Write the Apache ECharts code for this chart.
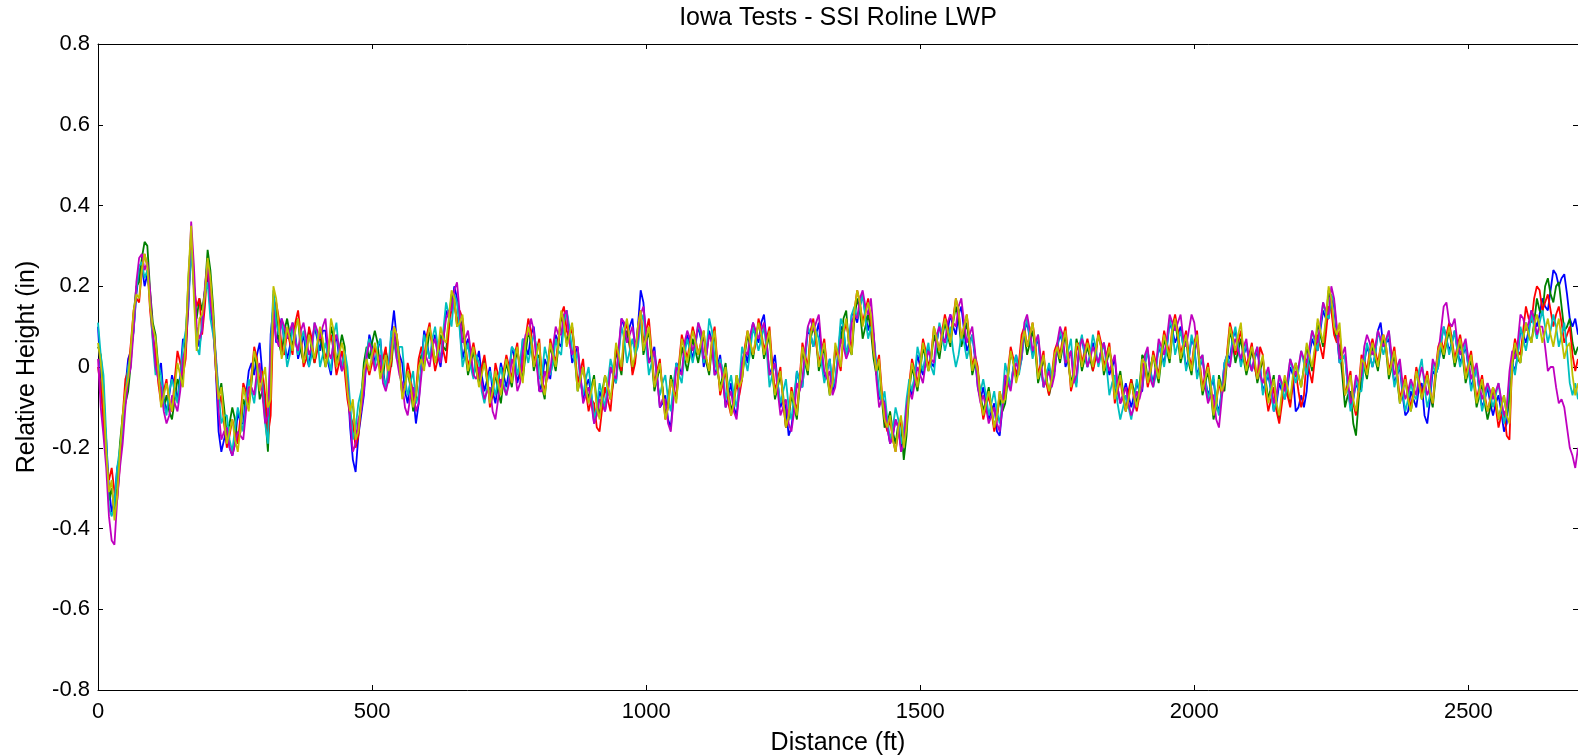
<!DOCTYPE html>
<html>
<head>
<meta charset="utf-8">
<script src="https://cdn.jsdelivr.net/npm/echarts@6/dist/echarts.min.js"></script>
<style>
html,body{margin:0;padding:0;background:#fff;}
#chart{width:1578px;height:755px;}
</style>
</head>
<body>
<div id="chart"></div>
<script>
// Profiles sampled every 10 ft, plus an intermediate reading at each 5 ft offset
const STEP_FT = 10;
const xTicks = [0, 500, 1000, 1500, 2000, 2500];
const yTicks = [-0.8, -0.6, -0.4, -0.2, 0, 0.2, 0.4, 0.6, 0.8];

const run1Blue = [0.10,-0.10,-0.30,-0.33,-0.22,-0.05,0.04,0.18,0.25,0.23,
0.09,-0.02,-0.08,-0.07,-0.05,-0.02,0.04,0.31,0.08,0.10,
0.23,0.10,-0.16,-0.18,-0.20,-0.19,-0.14,-0.07,0.01,0.03,
-0.02,-0.15,0.15,0.09,0.06,0.05,0.08,0.05,0.03,0.06,
0.07,0.09,0.01,0.05,0.02,0.02,-0.15,-0.26,-0.12,0.02,
0.05,0.04,-0.01,-0.02,0.14,0.03,-0.06,-0.03,-0.14,0.01,
0.06,0.05,0.03,0.06,0.12,0.20,0.10,0.05,0.02,0.01,
-0.02,-0.03,-0.06,-0.04,-0.02,-0.01,0.02,-0.01,0.05,0.08,
0.03,-0.04,0.00,0.03,0.06,0.12,0.08,0.03,-0.02,-0.05,
-0.07,-0.11,-0.08,-0.06,-0.02,0.04,0.10,0.10,0.04,0.19,
0.07,0.03,-0.02,-0.09,-0.13,-0.07,0.00,0.04,0.05,0.06,
0.07,0.03,0.06,0.00,-0.03,-0.07,-0.10,-0.06,0.04,0.07,
0.08,0.11,0.06,0.00,-0.04,-0.08,-0.17,-0.09,-0.04,0.02,
0.08,0.08,0.03,-0.01,-0.06,0.03,0.09,0.06,0.13,0.15,
0.13,0.12,-0.01,-0.07,-0.15,-0.17,-0.15,-0.18,-0.05,-0.02,
0.00,0.03,0.01,0.06,0.08,0.09,0.10,0.13,0.09,0.06,
0.02,-0.08,-0.09,-0.11,-0.16,-0.10,-0.02,0.00,-0.01,0.09,
0.07,0.05,0.00,-0.03,-0.03,0.05,0.06,0.02,-0.02,0.05,
0.03,0.03,0.03,0.04,0.02,0.00,-0.05,-0.07,-0.07,-0.07,
-0.06,0.01,-0.01,0.00,0.03,0.05,0.09,0.08,0.05,0.02,
0.05,0.00,-0.03,-0.05,-0.09,-0.06,0.03,0.07,0.05,0.03,
0.02,0.02,0.00,-0.04,-0.06,-0.09,-0.06,-0.05,-0.02,-0.10,
-0.10,0.03,0.05,0.09,0.12,0.17,0.08,0.02,-0.05,-0.08,
-0.06,0.01,0.03,0.03,0.11,0.06,0.01,-0.02,-0.07,-0.11,
-0.08,-0.05,-0.12,-0.08,-0.02,0.06,0.07,0.06,0.04,0.03,
0.00,-0.03,-0.06,-0.08,-0.09,-0.09,-0.11,-0.14,0.01,0.03,
0.08,0.09,0.12,0.13,0.15,0.19,0.23,0.22,0.18,0.10,0.08];
const run1BlueMid = [-0.02,-0.18,-0.36,-0.25,-0.16,0.02,0.09,0.24,0.20,0.18,
0.01,0.01,-0.11,-0.02,-0.08,0.07,0.15,0.21,0.05,0.19,
0.14,-0.01,-0.21,-0.15,-0.22,-0.11,-0.14,-0.01,-0.02,0.06,
-0.11,0.08,0.06,0.12,0.02,0.11,0.02,0.08,0.00,0.10,
0.04,0.09,-0.02,0.08,-0.01,-0.03,-0.23,-0.17,-0.07,0.08,
0.01,0.07,-0.05,0.08,0.07,0.01,-0.09,-0.07,-0.09,0.09,
0.02,0.08,0.00,0.14,0.14,0.17,0.02,0.07,-0.02,0.04,
-0.06,0.00,-0.09,0.01,-0.05,0.05,-0.04,0.07,0.03,0.10,
-0.06,0.02,-0.03,0.08,0.05,0.14,0.01,0.05,-0.08,-0.03,
-0.14,-0.06,-0.11,0.00,-0.04,0.12,0.07,0.12,0.10,0.16,
0.01,0.05,-0.10,-0.07,-0.15,0.01,-0.02,0.08,0.02,0.10,
0.00,0.09,-0.02,0.03,-0.10,-0.04,-0.12,0.01,0.01,0.11,
0.06,0.13,-0.02,0.03,-0.10,-0.10,-0.15,-0.01,-0.05,0.09,
0.05,0.11,-0.03,0.02,-0.04,0.10,0.03,0.13,0.11,0.18,
0.09,0.08,-0.08,-0.09,-0.19,-0.13,-0.20,-0.10,-0.07,0.03,
-0.02,0.05,0.00,0.10,0.06,0.13,0.08,0.15,0.04,0.08,
-0.05,-0.05,-0.13,-0.09,-0.17,-0.04,-0.05,0.03,0.02,0.11,
0.03,0.07,-0.05,0.00,-0.01,0.08,0.00,0.04,-0.04,0.07,
0.00,0.06,0.01,0.06,-0.02,0.02,-0.09,-0.04,-0.10,-0.04,
-0.06,0.04,-0.04,0.05,0.01,0.11,0.06,0.10,0.00,0.07,
-0.02,0.02,-0.07,-0.03,-0.11,0.01,0.02,0.09,0.01,0.05,
-0.01,0.04,-0.06,-0.02,-0.11,-0.04,-0.08,0.00,-0.11,-0.07,
-0.06,0.07,0.04,0.14,0.12,0.15,0.01,0.03,-0.10,-0.04,
-0.05,0.05,0.00,0.09,0.05,0.07,-0.04,0.00,-0.12,-0.06,
-0.10,-0.04,-0.14,-0.01,0.00,0.10,0.04,0.09,0.01,0.05,
-0.05,0.00,-0.10,-0.05,-0.12,-0.07,-0.16,-0.05,-0.01,0.09,
0.06,0.14,0.10,0.17,0.14,0.24,0.20,0.23,0.12,0.12];

const run2Green = [0.05,-0.05,-0.33,-0.36,-0.19,-0.09,0.01,0.20,0.27,0.30,
0.11,0.00,-0.10,-0.11,-0.08,-0.05,0.07,0.33,0.12,0.14,
0.29,0.15,-0.07,-0.10,-0.14,-0.13,-0.16,-0.10,-0.04,0.00,
-0.06,-0.21,0.18,0.06,0.09,0.08,0.10,0.04,0.06,0.04,
0.05,0.04,0.03,0.07,0.04,0.05,-0.10,-0.17,-0.08,0.05,
0.06,0.06,-0.03,0.01,0.08,0.00,-0.04,-0.05,-0.08,0.03,
0.04,0.06,0.04,0.05,0.11,0.17,0.12,0.04,0.01,-0.01,
-0.01,-0.04,-0.05,-0.06,-0.03,-0.02,0.01,0.00,0.03,0.06,
0.02,-0.05,0.01,0.02,0.05,0.10,0.09,0.02,-0.03,-0.04,
-0.05,-0.09,-0.06,-0.05,-0.04,0.01,0.06,0.05,0.02,0.12,
0.06,0.02,-0.03,-0.05,-0.09,-0.05,-0.01,0.02,0.03,0.04,
0.05,0.01,0.05,-0.01,-0.02,-0.06,-0.08,-0.05,0.03,0.05,
0.07,0.08,0.05,-0.01,-0.05,-0.07,-0.13,-0.10,-0.05,0.01,
0.07,0.07,0.02,-0.02,-0.04,0.04,0.12,0.05,0.12,0.14,
0.10,0.09,-0.02,-0.08,-0.14,-0.16,-0.14,-0.23,-0.06,-0.03,
-0.01,0.02,0.02,0.05,0.07,0.08,0.11,0.12,0.08,0.05,
0.01,-0.07,-0.08,-0.10,-0.12,-0.11,-0.03,0.01,0.00,0.08,
0.06,0.04,-0.01,-0.02,-0.04,0.04,0.05,0.01,-0.01,0.04,
0.02,0.02,0.04,0.05,0.01,0.01,-0.04,-0.06,-0.08,-0.06,
-0.05,0.02,0.00,-0.01,0.02,0.04,0.08,0.07,0.04,0.01,
0.04,-0.01,-0.04,-0.06,-0.10,-0.05,0.02,0.06,0.04,0.02,
0.01,0.01,-0.01,-0.03,-0.05,-0.10,-0.07,-0.06,-0.03,-0.02,
0.00,0.02,0.04,0.08,0.11,0.16,0.07,-0.02,-0.07,-0.14,
-0.08,0.00,0.02,0.02,0.04,0.04,0.00,-0.03,-0.06,-0.08,
-0.07,-0.04,-0.05,-0.07,-0.03,0.05,0.06,0.05,0.03,0.02,
-0.01,-0.04,-0.07,-0.09,-0.10,-0.08,-0.10,-0.12,0.00,0.02,
0.07,0.08,0.11,0.14,0.20,0.18,0.20,0.15,0.10,0.06,0.05];
const run2GreenMid = [0.03,-0.21,-0.30,-0.30,-0.12,-0.06,0.13,0.21,0.31,0.19,
0.08,-0.07,-0.07,-0.13,-0.03,-0.02,0.22,0.20,0.17,0.19,
0.24,0.02,-0.04,-0.17,-0.10,-0.19,-0.08,-0.10,0.03,-0.08,
-0.12,-0.05,0.14,0.03,0.12,0.05,0.12,0.01,0.09,0.01,
0.08,0.00,0.10,0.01,0.08,-0.05,-0.09,-0.15,0.01,0.02,
0.09,-0.01,0.04,0.00,0.06,-0.07,-0.01,-0.11,0.00,0.00,
0.09,0.01,0.08,0.04,0.18,0.10,0.10,-0.02,0.04,-0.04,
0.02,-0.08,-0.02,-0.09,0.01,-0.05,0.04,-0.03,0.09,-0.01,
0.03,-0.08,0.05,-0.01,0.13,0.06,0.10,-0.06,0.00,-0.08,
-0.02,-0.12,-0.02,-0.08,0.04,-0.02,0.09,-0.01,0.09,0.03,
0.09,-0.06,0.00,-0.12,-0.02,-0.08,0.05,-0.01,0.07,0.01,
0.08,-0.02,0.08,-0.05,0.01,-0.11,-0.02,-0.03,0.08,0.02,
0.11,0.02,0.08,-0.08,-0.02,-0.15,-0.07,-0.13,0.04,-0.02,
0.10,-0.01,0.05,-0.07,0.04,0.06,0.14,0.03,0.17,0.07,
0.13,0.02,0.01,-0.15,-0.11,-0.19,-0.14,-0.17,0.00,-0.06,
0.05,-0.01,0.08,0.02,0.11,0.05,0.15,0.05,0.11,-0.02,
-0.01,-0.11,-0.05,-0.15,-0.08,-0.09,0.04,-0.03,0.06,0.03,
0.09,-0.04,0.02,-0.07,0.02,0.01,0.08,-0.04,0.07,-0.01,
0.05,-0.01,0.08,-0.02,0.04,-0.07,-0.01,-0.11,-0.03,-0.09,
0.03,-0.03,0.03,-0.04,0.07,0.01,0.11,0.01,0.07,-0.02,
0.07,-0.07,-0.01,-0.13,-0.02,-0.06,0.09,0.01,0.07,-0.02,
0.04,-0.04,0.02,-0.08,-0.02,-0.13,-0.03,-0.09,0.01,-0.05,
0.05,-0.01,0.11,0.05,0.19,0.09,0.05,-0.10,-0.06,-0.17,
-0.02,-0.03,0.05,-0.01,0.07,-0.03,0.03,-0.09,-0.03,-0.11,
-0.01,-0.08,-0.02,-0.10,0.03,0.02,0.09,0.00,0.06,-0.04,
0.02,-0.10,-0.04,-0.13,-0.05,-0.13,-0.07,-0.08,0.05,0.01,
0.11,0.06,0.17,0.13,0.22,0.16,0.21,0.09,0.12,0.03];

const run3Red = [0.00,-0.14,-0.28,-0.31,-0.24,-0.03,0.06,0.17,0.24,0.25,
0.07,-0.04,-0.06,-0.09,-0.03,0.01,0.02,0.30,0.15,0.08,
0.25,0.12,-0.10,-0.14,-0.17,-0.16,-0.12,-0.06,-0.02,0.02,
-0.01,-0.17,0.13,0.12,0.03,0.06,0.11,0.08,0.02,0.07,
0.04,0.06,0.05,0.04,0.01,-0.01,-0.12,-0.20,-0.10,0.01,
0.01,0.02,0.02,-0.04,0.10,0.02,-0.05,-0.02,-0.06,0.05,
0.08,0.04,0.02,0.04,0.09,0.16,0.14,0.06,0.03,0.02,
0.00,-0.02,-0.07,-0.02,-0.01,0.00,0.03,-0.03,0.07,0.09,
0.04,-0.03,-0.02,0.04,0.07,0.15,0.07,0.04,-0.01,-0.06,
-0.08,-0.15,-0.10,-0.08,-0.03,0.02,0.08,0.06,0.01,0.14,
0.09,0.04,-0.01,-0.06,-0.10,-0.06,0.01,0.05,0.06,0.07,
0.06,0.02,0.07,0.01,-0.04,-0.09,-0.09,-0.07,0.05,0.06,
0.06,0.09,0.07,0.01,-0.03,-0.09,-0.12,-0.08,-0.03,0.03,
0.09,0.06,0.04,0.00,-0.03,0.02,0.08,0.07,0.14,0.16,
0.14,0.11,0.00,-0.06,-0.16,-0.18,-0.16,-0.17,-0.04,-0.01,
0.01,0.04,0.03,0.07,0.09,0.10,0.12,0.14,0.10,0.07,
0.03,-0.08,-0.10,-0.11,-0.13,-0.09,-0.01,0.02,0.01,0.10,
0.08,0.06,0.01,-0.04,-0.02,0.06,0.07,0.03,-0.03,0.06,
0.04,0.04,0.02,0.06,0.03,-0.01,-0.06,-0.08,-0.06,-0.08,
-0.07,0.00,-0.02,0.01,0.04,0.06,0.10,0.09,0.06,0.03,
0.06,0.01,-0.02,-0.04,-0.08,-0.07,0.04,0.08,0.06,0.04,
0.03,0.00,0.05,-0.06,-0.08,-0.11,-0.09,-0.07,-0.04,-0.06,
-0.07,-0.01,0.02,0.05,0.08,0.14,0.06,0.01,-0.04,-0.09,
-0.05,0.02,0.04,0.04,0.05,0.05,0.02,-0.01,-0.05,-0.07,
-0.06,-0.03,-0.04,-0.06,-0.01,0.07,0.08,0.07,0.05,0.04,
0.01,-0.02,-0.05,-0.07,-0.08,-0.10,-0.12,-0.17,0.02,0.04,
0.09,0.12,0.17,0.19,0.16,0.14,0.13,0.11,0.08,0.03,0.02];
const run3RedMid = [-0.05,-0.23,-0.25,-0.33,-0.12,-0.01,0.14,0.16,0.28,0.14,
0.04,-0.09,-0.03,-0.11,0.04,-0.02,0.18,0.20,0.17,0.15,
0.21,-0.01,-0.07,-0.20,-0.13,-0.19,-0.04,-0.09,0.05,-0.04,
-0.07,-0.12,0.16,0.05,0.09,0.03,0.14,0.00,0.10,0.01,
0.09,0.02,0.08,-0.02,0.04,-0.08,-0.14,-0.17,-0.02,-0.02,
0.05,-0.01,0.05,0.01,0.08,-0.07,0.01,-0.09,0.02,0.02,
0.11,-0.01,0.07,0.01,0.15,0.11,0.12,0.00,0.06,-0.03,
0.03,-0.10,0.01,-0.05,0.03,-0.03,0.06,0.00,0.12,0.01,
0.07,-0.06,0.07,0.01,0.13,0.09,0.10,-0.04,0.02,-0.11,
-0.09,-0.16,-0.05,-0.11,0.05,-0.01,0.11,-0.02,0.10,0.06,
0.12,-0.04,0.02,-0.13,-0.03,-0.07,0.08,0.02,0.10,0.03,
0.09,-0.01,0.10,-0.07,-0.01,-0.12,-0.04,-0.03,0.09,0.03,
0.12,0.04,0.10,-0.06,0.00,-0.15,-0.05,-0.11,0.06,0.00,
0.12,0.01,0.07,-0.06,0.05,-0.01,0.11,0.05,0.19,0.11,
0.17,0.04,0.03,-0.13,-0.13,-0.21,-0.13,-0.13,0.02,-0.04,
0.07,0.00,0.10,0.04,0.13,0.07,0.17,0.07,0.13,0.00,
0.00,-0.13,-0.07,-0.16,-0.06,-0.07,0.05,-0.02,0.08,0.05,
0.11,-0.02,0.04,-0.07,0.04,0.03,0.10,-0.06,0.04,0.01,
0.07,-0.01,0.09,0.00,0.06,-0.09,-0.03,-0.11,-0.03,-0.11,
0.01,-0.05,0.04,-0.02,0.09,0.03,0.13,0.03,0.09,0.00,
0.09,-0.05,0.01,-0.11,-0.04,-0.04,0.11,0.03,0.09,0.00,
0.06,-0.03,0.03,-0.11,-0.05,-0.14,-0.04,-0.10,-0.01,-0.10,
0.02,-0.04,0.08,0.02,0.15,0.08,0.09,-0.07,-0.01,-0.12,
0.03,-0.01,0.07,0.01,0.08,-0.01,0.05,-0.08,-0.02,-0.10,
0.00,-0.07,-0.01,-0.09,0.05,0.04,0.11,0.02,0.08,-0.02,
0.04,-0.08,-0.02,-0.11,-0.05,-0.15,-0.11,-0.18,0.07,0.03,
0.15,0.11,0.20,0.14,0.18,0.10,0.15,0.06,0.10,-0.01];

const run4Cyan = [0.11,-0.02,-0.35,-0.34,-0.20,-0.07,0.03,0.19,0.26,0.24,
0.06,0.01,-0.09,-0.06,-0.06,-0.03,0.09,0.29,0.05,0.12,
0.21,0.08,-0.06,-0.12,-0.18,-0.15,-0.13,-0.09,-0.06,-0.03,
-0.04,-0.19,0.19,0.08,0.07,0.03,0.07,0.06,0.05,0.03,
0.08,0.03,0.02,0.08,0.03,0.04,-0.09,-0.15,-0.06,0.04,
0.03,0.05,-0.02,0.00,0.06,0.05,-0.03,-0.04,-0.09,0.00,
0.05,0.07,0.05,0.09,0.13,0.18,0.09,0.03,0.00,0.03,
-0.06,-0.05,-0.04,-0.03,-0.04,-0.03,0.04,0.01,0.04,0.05,
0.05,-0.02,0.02,0.01,0.04,0.11,0.10,0.01,-0.04,-0.03,
-0.06,-0.10,-0.07,-0.04,-0.01,0.03,0.07,0.04,0.03,0.11,
0.05,0.01,-0.04,-0.04,-0.08,-0.04,-0.02,0.03,0.04,0.05,
0.08,0.04,0.09,-0.02,-0.01,-0.05,-0.07,-0.04,0.02,0.04,
0.07,0.07,0.04,-0.02,-0.04,-0.06,-0.10,-0.07,-0.04,0.02,
0.08,0.09,0.01,-0.01,-0.05,0.03,0.10,0.06,0.15,0.15,
0.12,0.10,0.01,-0.09,-0.13,-0.15,-0.13,-0.16,-0.03,-0.02,
0.02,0.03,0.00,0.06,0.08,0.07,0.04,0.03,0.06,0.05,
0.03,-0.06,-0.07,-0.09,-0.11,-0.08,-0.02,0.00,-0.02,0.09,
0.07,0.05,0.00,-0.02,-0.03,0.05,0.06,0.04,-0.02,0.05,
0.03,0.03,0.05,0.03,0.00,-0.04,-0.09,-0.10,-0.10,-0.09,
-0.06,0.01,-0.01,-0.02,0.03,0.05,0.09,0.06,0.05,0.02,
0.05,0.00,-0.03,-0.05,-0.09,-0.06,0.03,0.07,0.05,0.03,
0.02,0.02,0.00,-0.04,-0.06,-0.08,-0.05,-0.04,-0.01,-0.01,
0.01,0.04,0.06,0.10,0.13,0.18,0.09,0.02,-0.05,-0.08,
-0.06,0.01,0.03,0.03,0.06,0.06,0.01,-0.02,-0.06,-0.08,
-0.07,-0.01,-0.05,-0.07,-0.02,0.06,0.07,0.06,0.04,0.03,
0.00,-0.03,-0.06,-0.08,-0.07,-0.07,-0.09,-0.11,0.01,0.03,
0.07,0.08,0.10,0.11,0.10,0.09,0.10,0.08,0.04,-0.07,-0.08];
const run4CyanMid = [0.03,-0.17,-0.37,-0.25,-0.16,0.00,0.09,0.25,0.22,0.17,
-0.02,-0.02,-0.12,-0.03,-0.09,0.05,0.17,0.19,0.03,0.18,
0.12,0.03,-0.14,-0.12,-0.21,-0.10,-0.16,-0.03,-0.09,0.00,
-0.14,0.05,0.11,0.11,0.00,0.10,0.03,0.09,0.00,0.11,
0.00,0.06,-0.01,0.11,0.00,0.00,-0.18,-0.09,-0.03,0.07,
0.00,0.07,-0.05,0.09,0.02,0.05,-0.07,-0.01,-0.07,0.08,
0.02,0.10,0.02,0.16,0.10,0.16,0.00,0.06,-0.03,0.01,
-0.09,-0.01,-0.07,0.00,-0.07,0.05,-0.02,0.07,0.01,0.08,
-0.03,0.05,-0.02,0.07,0.03,0.14,0.04,0.04,-0.07,0.00,
-0.13,-0.04,-0.10,0.02,-0.04,0.10,0.01,0.07,0.05,0.13,
-0.02,0.04,-0.07,-0.02,-0.11,0.01,-0.04,0.07,0.01,0.11,
0.01,0.12,0.02,0.02,-0.08,-0.02,-0.10,0.05,-0.01,0.10,
0.04,0.10,-0.05,0.01,-0.09,-0.03,-0.13,-0.01,-0.05,0.10,
0.05,0.07,-0.04,0.02,-0.03,0.12,0.03,0.13,0.12,0.18,
0.07,0.08,-0.06,-0.06,-0.18,-0.10,-0.19,-0.08,-0.06,0.05,
-0.01,0.06,-0.02,0.11,0.04,0.10,0.00,0.08,0.02,0.08,
-0.04,-0.03,-0.12,-0.06,-0.14,0.01,-0.05,0.03,0.02,0.12,
0.02,0.08,-0.05,0.01,-0.01,0.09,0.01,0.07,-0.05,0.08,
0.00,0.08,0.00,0.06,-0.07,-0.02,-0.13,-0.07,-0.13,-0.03,
-0.05,0.04,-0.05,0.06,0.00,0.12,0.03,0.09,-0.01,0.08,
-0.03,0.03,-0.08,-0.02,-0.12,0.01,0.00,0.10,0.00,0.06,
-0.01,0.05,-0.07,-0.01,-0.11,-0.02,-0.08,0.02,-0.04,0.04,
-0.02,0.09,0.04,0.16,0.12,0.16,0.01,0.03,-0.11,-0.03,
-0.06,0.06,0.00,0.09,0.03,0.09,-0.05,0.01,-0.11,-0.04,
-0.08,0.02,-0.10,0.01,0.00,0.10,0.03,0.09,0.00,0.06,
-0.06,0.00,-0.11,-0.04,-0.10,-0.04,-0.14,-0.03,-0.02,0.10,
0.04,0.13,0.07,0.14,0.06,0.13,0.05,0.11,-0.04,-0.04];

const run5Magenta = [0.02,-0.17,-0.37,-0.44,-0.25,-0.10,0.00,0.21,0.28,0.26,
0.08,-0.03,-0.11,-0.12,-0.09,-0.06,0.05,0.36,0.10,0.09,
0.26,0.11,-0.11,-0.16,-0.20,-0.19,-0.17,-0.11,-0.05,-0.01,
-0.07,-0.12,0.14,0.05,0.10,0.09,0.06,0.09,0.07,0.05,
0.09,0.10,0.04,0.06,0.05,0.01,-0.13,-0.19,-0.11,0.03,
0.04,0.01,-0.04,-0.03,0.09,-0.02,-0.10,-0.07,-0.11,-0.02,
0.02,0.05,0.03,0.07,0.14,0.19,0.13,0.07,0.04,-0.03,
-0.04,-0.06,-0.11,-0.08,-0.05,-0.04,0.00,-0.04,0.08,0.12,
0.01,-0.06,-0.03,0.05,0.08,0.13,0.06,0.05,-0.02,-0.07,
-0.09,-0.12,-0.09,-0.07,-0.02,0.05,0.11,0.08,0.05,0.13,
0.08,0.02,-0.03,-0.08,-0.14,-0.08,-0.01,0.06,0.07,0.06,
0.09,0.03,0.06,-0.01,-0.03,-0.08,-0.11,-0.06,0.04,0.08,
0.09,0.09,0.06,-0.01,-0.06,-0.10,-0.14,-0.11,-0.06,0.04,
0.12,0.11,0.05,-0.03,-0.07,0.01,0.05,0.04,0.13,0.17,
0.15,0.17,-0.03,-0.08,-0.15,-0.17,-0.15,-0.19,-0.06,-0.04,
-0.02,0.01,0.02,0.08,0.07,0.11,0.11,0.15,0.11,0.08,
0.04,-0.09,-0.10,-0.12,-0.14,-0.10,-0.04,-0.01,-0.01,0.11,
0.09,0.06,0.02,-0.03,-0.05,0.06,0.08,0.02,-0.04,0.04,
0.05,0.02,0.03,0.04,0.02,0.01,-0.05,-0.07,-0.09,-0.10,
-0.08,0.03,-0.03,0.00,0.05,0.07,0.11,0.11,0.07,0.09,
0.11,0.02,-0.05,-0.07,-0.13,-0.08,0.01,0.05,0.04,0.05,
0.01,0.03,-0.02,-0.02,-0.04,-0.07,-0.04,-0.03,0.00,0.00,
0.02,0.05,0.07,0.11,0.14,0.20,0.10,0.03,-0.03,-0.07,
-0.04,0.05,0.06,0.05,0.07,0.07,0.03,0.00,-0.04,-0.06,
-0.05,-0.03,-0.03,-0.05,0.00,0.09,0.16,0.10,0.06,0.05,
0.02,-0.01,-0.04,-0.06,-0.06,-0.06,-0.08,-0.10,0.04,0.06,
0.12,0.11,0.12,0.10,0.05,0.00,-0.05,-0.08,-0.15,-0.22,-0.20];
const run5MagentaMid = [-0.10,-0.25,-0.43,-0.33,-0.19,-0.03,0.09,0.27,0.24,0.19,
0.00,-0.05,-0.14,-0.07,-0.11,0.02,0.19,0.25,0.07,0.20,
0.16,0.02,-0.18,-0.15,-0.22,-0.16,-0.18,-0.05,-0.07,0.01,
-0.14,0.03,0.07,0.12,0.07,0.11,0.04,0.11,0.03,0.11,
0.07,0.12,0.02,0.08,-0.01,-0.04,-0.21,-0.13,-0.06,0.06,
-0.01,0.03,-0.06,0.05,0.02,-0.04,-0.12,-0.05,-0.09,0.04,
0.00,0.07,0.01,0.12,0.14,0.21,0.06,0.09,-0.02,0.00,
-0.08,-0.05,-0.13,-0.03,-0.07,0.02,-0.06,0.04,0.08,0.09,
-0.06,-0.01,-0.01,0.10,0.08,0.14,0.03,0.05,-0.09,-0.05,
-0.14,-0.08,-0.11,0.00,-0.03,0.12,0.06,0.10,0.07,0.15,
0.01,0.04,-0.10,-0.08,-0.16,0.00,-0.02,0.09,0.04,0.11,
0.02,0.08,-0.02,0.01,-0.10,-0.06,-0.13,0.01,0.03,0.11,
0.07,0.11,-0.02,0.01,-0.12,-0.08,-0.16,-0.04,-0.03,0.10,
0.09,0.13,-0.01,-0.01,-0.05,0.07,0.02,0.11,0.12,0.19,
0.13,0.09,-0.10,-0.09,-0.19,-0.13,-0.21,-0.10,-0.08,0.00,
-0.04,0.04,0.01,0.10,0.06,0.13,0.10,0.17,0.06,0.10,
-0.05,-0.07,-0.14,-0.10,-0.16,-0.02,-0.06,0.01,0.03,0.13,
0.04,0.08,-0.05,-0.01,-0.02,0.10,0.01,0.04,-0.02,0.07,
0.00,0.05,0.01,0.06,-0.01,0.03,-0.09,-0.05,-0.12,-0.06,
-0.05,0.05,-0.05,0.07,0.03,0.13,0.09,0.13,0.05,0.13,
0.05,0.03,-0.09,-0.07,-0.15,-0.01,0.00,0.07,0.02,0.07,
-0.01,0.05,-0.04,0.00,-0.09,-0.02,-0.06,0.02,-0.02,0.04,
0.01,0.09,0.06,0.16,0.13,0.17,0.02,0.05,-0.09,-0.02,
-0.02,0.08,0.03,0.09,0.05,0.09,-0.02,0.02,-0.08,-0.03,
-0.07,0.00,-0.07,0.02,0.03,0.15,0.11,0.12,0.03,0.07,
-0.03,0.01,-0.08,-0.04,-0.08,-0.04,-0.12,-0.01,0.02,0.13,
0.09,0.14,0.08,0.10,-0.01,0.00,-0.09,-0.10,-0.20,-0.25];

const run6Yellow = [0.06,-0.08,-0.31,-0.38,-0.21,-0.06,0.05,0.18,0.24,0.25,
0.10,-0.01,-0.07,-0.08,-0.05,-0.02,0.06,0.35,0.04,0.13,
0.27,0.13,-0.08,-0.13,-0.16,-0.18,-0.15,-0.08,-0.03,0.01,
-0.03,-0.10,0.20,0.10,0.05,0.07,0.09,0.06,0.04,0.05,
0.06,0.07,0.03,0.09,0.03,0.03,-0.11,-0.18,-0.09,0.02,
0.03,0.03,0.00,-0.01,0.10,0.01,-0.05,-0.04,-0.07,0.02,
0.07,0.06,0.04,0.07,0.12,0.17,0.11,0.05,0.02,0.00,
-0.02,-0.03,-0.06,-0.04,-0.02,-0.01,0.02,-0.01,0.06,0.07,
0.03,-0.04,-0.01,0.03,0.06,0.11,0.08,0.03,-0.03,-0.05,
-0.06,-0.10,-0.07,-0.05,-0.02,0.03,0.09,0.07,0.03,0.14,
0.07,0.03,-0.02,-0.06,-0.10,-0.06,0.00,0.04,0.05,0.06,
0.06,0.02,0.06,0.00,-0.03,-0.07,-0.09,-0.05,0.04,0.06,
0.07,0.08,0.06,-0.01,-0.04,-0.08,-0.12,-0.09,-0.04,0.02,
0.08,0.08,0.03,-0.01,-0.04,0.03,0.09,0.06,0.14,0.16,
0.13,0.13,-0.01,-0.07,-0.15,-0.18,-0.15,-0.20,-0.05,-0.02,
0.00,0.03,0.02,0.07,0.08,0.09,0.11,0.14,0.10,0.06,
0.02,-0.08,-0.09,-0.10,-0.12,-0.09,-0.02,0.01,-0.01,0.09,
0.08,0.05,0.00,-0.03,-0.03,0.05,0.06,0.02,-0.02,0.05,
0.03,0.03,0.04,0.05,0.02,0.00,-0.05,-0.07,-0.08,-0.07,
-0.06,0.01,-0.01,0.00,0.03,0.05,0.09,0.08,0.05,0.02,
0.05,0.00,-0.03,-0.05,-0.09,-0.06,0.03,0.07,0.08,0.03,
0.02,0.02,0.00,-0.04,-0.06,-0.09,-0.06,-0.05,-0.02,-0.02,
0.00,0.03,0.05,0.09,0.12,0.17,0.08,0.02,-0.05,-0.08,
-0.06,0.01,0.03,0.03,0.05,0.05,0.01,-0.02,-0.06,-0.08,
-0.07,-0.04,-0.05,-0.06,-0.02,0.06,0.07,0.06,0.04,0.03,
0.00,-0.03,-0.06,-0.08,-0.08,-0.08,-0.10,-0.12,0.01,0.03,
0.07,0.08,0.10,0.10,0.09,0.08,0.09,0.07,0.05,-0.02,-0.04];
const run6YellowMid = [0.01,-0.21,-0.28,-0.32,-0.12,-0.03,0.14,0.17,0.28,0.15,
0.07,-0.10,-0.04,-0.11,0.01,-0.05,0.23,0.17,0.12,0.18,
0.22,0.00,-0.05,-0.19,-0.13,-0.21,-0.05,-0.11,0.04,-0.06,
0.00,-0.08,0.17,0.02,0.10,0.04,0.12,0.01,0.08,0.02,
0.10,0.00,0.12,0.00,0.06,-0.06,-0.08,-0.16,-0.01,-0.01,
0.06,-0.03,0.03,0.02,0.08,-0.08,-0.01,-0.10,0.00,-0.01,
0.10,0.01,0.10,0.06,0.19,0.10,0.13,-0.01,0.05,-0.05,
0.01,-0.09,-0.01,-0.07,0.02,-0.04,0.05,-0.04,0.10,0.00,
0.06,-0.07,0.06,0.00,0.14,0.05,0.11,-0.06,0.00,-0.09,
-0.03,-0.13,-0.02,-0.08,0.06,0.00,0.12,0.00,0.10,0.04,
0.10,-0.05,0.01,-0.13,-0.03,-0.09,0.07,0.01,0.09,0.03,
0.09,-0.01,0.09,-0.06,0.00,-0.12,-0.02,-0.03,0.09,0.03,
0.11,0.03,0.09,-0.07,-0.01,-0.15,-0.06,-0.12,0.05,-0.01,
0.11,0.00,0.06,-0.07,0.06,0.00,0.12,0.03,0.19,0.10,
0.16,0.04,0.02,-0.13,-0.12,-0.21,-0.12,-0.15,0.01,-0.05,
0.06,-0.01,0.10,0.04,0.12,0.06,0.17,0.07,0.13,-0.01,
-0.01,-0.12,-0.06,-0.15,-0.06,-0.08,0.04,-0.04,0.06,0.05,
0.11,-0.03,0.03,-0.06,0.03,0.02,0.09,-0.05,0.06,0.00,
0.06,0.00,0.08,-0.01,0.05,-0.08,-0.02,-0.11,-0.04,-0.10,
0.02,-0.04,0.03,-0.03,0.08,0.02,0.12,0.02,0.08,-0.01,
0.08,-0.06,0.00,-0.12,-0.03,-0.04,0.10,0.04,0.11,-0.01,
0.05,-0.03,0.03,-0.09,-0.03,-0.12,-0.02,-0.08,0.01,-0.05,
0.06,0.00,0.12,0.06,0.20,0.10,0.11,-0.07,-0.02,-0.11,
0.02,-0.02,0.06,0.00,0.08,-0.02,0.04,-0.09,-0.03,-0.11,
-0.01,-0.08,-0.02,-0.09,0.04,0.03,0.10,0.01,0.07,-0.03,
0.03,-0.09,-0.03,-0.11,-0.05,-0.13,-0.07,-0.14,0.06,0.01,
0.11,0.06,0.13,0.06,0.12,0.05,0.12,0.02,0.06,-0.07];

const runs = [
  {name: 'Run 1', color: '#0000ff', values: run1Blue, mids: run1BlueMid},
  {name: 'Run 2', color: '#008000', values: run2Green, mids: run2GreenMid},
  {name: 'Run 3', color: '#ff0000', values: run3Red, mids: run3RedMid},
  {name: 'Run 4', color: '#00bfbf', values: run4Cyan, mids: run4CyanMid},
  {name: 'Run 5', color: '#bf00bf', values: run5Magenta, mids: run5MagentaMid},
  {name: 'Run 6', color: '#bfbf00', values: run6Yellow, mids: run6YellowMid}
];

function buildPoints(values, mids) {
  const pts = [];
  for (let i = 0; i < values.length; i++) {
    pts.push([i * STEP_FT, values[i]]);
    if (i < mids.length) pts.push([i * STEP_FT + STEP_FT / 2, mids[i]]);
  }
  return pts;
}

const FONT = "'Liberation Sans', Arial, Helvetica, sans-serif";
const chart = echarts.init(document.getElementById('chart'), null, {renderer: 'canvas'});

const axisLineStyle = {show: true, onZero: false, lineStyle: {color: '#000', width: 1}};
const tickStyle = {show: true, inside: true, length: 5, lineStyle: {color: '#000', width: 1}};
const option = {
  backgroundColor: '#fff',
  animation: false,
  title: {
    text: 'Iowa Tests - SSI Roline LWP',
    left: 838, top: 6, padding: 0, textAlign: 'center',
    textStyle: {fontFamily: FONT, fontSize: 25, fontWeight: 'normal', color: '#000'}
  },
  grid: {left: 98, right: 0, top: 44, bottom: 65, containLabel: false, outerBoundsMode: 'none'},
  xAxis: [{
    type: 'value', min: 0, max: 2700, interval: 500, position: 'bottom',
    name: 'Distance (ft)', nameLocation: 'middle', nameGap: 41,
    nameTextStyle: {fontFamily: FONT, fontSize: 25, color: '#000'},
    axisLine: axisLineStyle,
    axisTick: tickStyle,
    axisLabel: {fontFamily: FONT, fontSize: 22, color: '#000', margin: 11, showMaxLabel: false,
      formatter: v => (xTicks.indexOf(v) >= 0 ? String(v) : '')},
    splitLine: {show: false}
  }, {
    type: 'value', min: 0, max: 2700, interval: 500, position: 'top',
    axisLine: axisLineStyle,
    axisTick: tickStyle,
    axisLabel: {show: false}, splitLine: {show: false}
  }],
  yAxis: [{
    type: 'value', min: -0.8, max: 0.8, interval: 0.2, position: 'left',
    name: 'Relative Height (in)', nameLocation: 'middle', nameGap: 58, nameRotate: 90,
    nameTextStyle: {fontFamily: FONT, fontSize: 25, color: '#000'},
    axisLine: axisLineStyle,
    axisTick: tickStyle,
    axisLabel: {fontFamily: FONT, fontSize: 22, color: '#000', margin: 8,
      formatter: v => {
        const r = Math.round(v * 10) / 10;
        const t = yTicks.find(k => Math.abs(k - r) < 1e-9);
        return t === undefined ? '' : (t === 0 ? '0' : t.toFixed(1));
      }},
    splitLine: {show: false}
  }, {
    type: 'value', min: -0.8, max: 0.8, interval: 0.2, position: 'right',
    axisLine: axisLineStyle,
    axisTick: tickStyle,
    axisLabel: {show: false}, splitLine: {show: false}
  }],
  series: runs.map(r => ({
    name: r.name,
    type: 'line',
    xAxisIndex: 0, yAxisIndex: 0,
    showSymbol: false,
    symbol: 'none',
    clip: true,
    lineStyle: {color: r.color, width: 1.8},
    itemStyle: {color: r.color},
    data: buildPoints(r.values, r.mids)
  }))
};
chart.setOption(option);
</script>
</body>
</html>
